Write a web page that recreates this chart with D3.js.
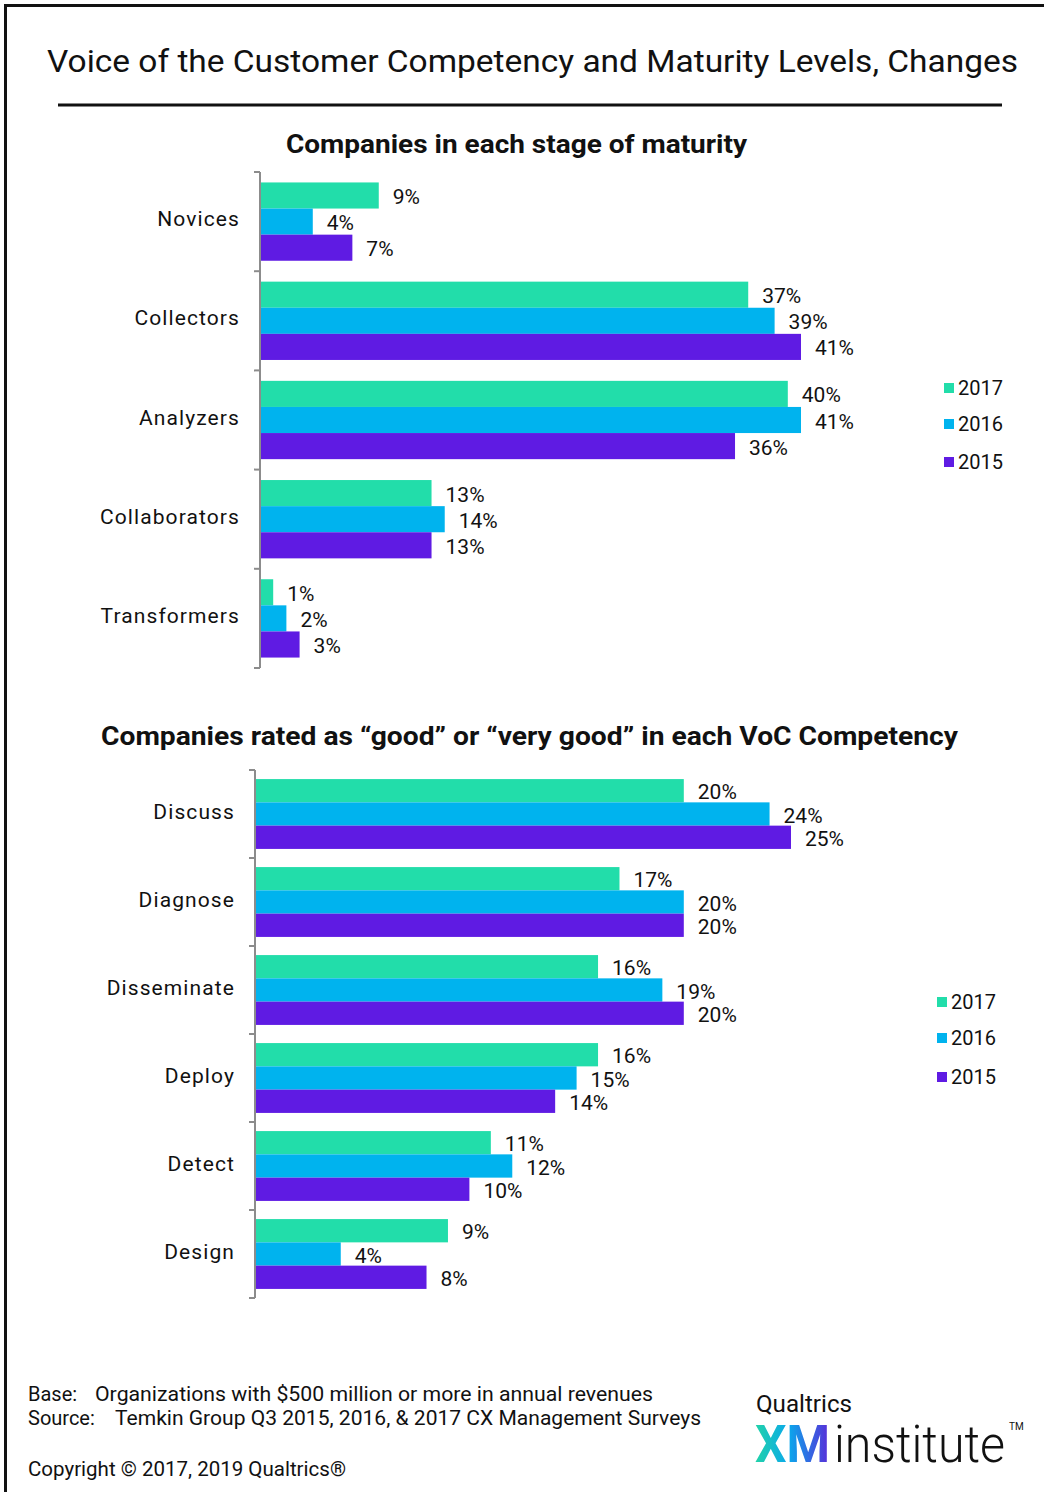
<!DOCTYPE html>
<html>
<head>
<meta charset="utf-8">
<script src="https://cdn.jsdelivr.net/npm/d3@7"></script>
<style>
  html, body { margin: 0; padding: 0; background: #fff; }
  svg { display: block; }
  text { font-family: Roboto, "Liberation Sans", sans-serif; fill: #111; }
</style>
</head>
<body>
<script>
// ---- data ----
const years = ["2017", "2016", "2015"];
const yearColors = ["#22DDAA", "#00B3EE", "#5F1BE3"];

const maturityStages = ["Novices", "Collectors", "Analyzers", "Collaborators", "Transformers"];
const maturity2017 = [9, 37, 40, 13, 1];
const maturity2016 = [4, 39, 41, 14, 2];
const maturity2015 = [7, 41, 36, 13, 3];

const competencies = ["Discuss", "Diagnose", "Disseminate", "Deploy", "Detect", "Design"];
const competency2017 = [20, 17, 16, 16, 11, 9];
const competency2016 = [24, 20, 19, 15, 12, 4];
const competency2015 = [25, 20, 20, 14, 10, 8];

const W = 1044, H = 1492;
const svg = d3.select("body").append("svg").attr("width", W).attr("height", H);

// gradient for the logo lettering
const defs = svg.append("defs");
const grad = defs.append("linearGradient").attr("id", "xmGrad")
  .attr("x1", "0%").attr("x2", "100%").attr("y1", "0%").attr("y2", "0%");
grad.append("stop").attr("offset", "0%").attr("stop-color", "#22D3A8");
grad.append("stop").attr("offset", "45%").attr("stop-color", "#0AA8EC");
grad.append("stop").attr("offset", "100%").attr("stop-color", "#5A2BD8");

// frame (left and top edges)
svg.append("path").attr("d", `M5.5,${H} V5.5 H${W}`)
  .attr("fill", "none").attr("stroke", "#111").attr("stroke-width", 3);

// title and rule
svg.append("text").attr("x", 47).attr("y", 72)
  .attr("font-size", 32).attr("textLength", 971).attr("lengthAdjust", "spacingAndGlyphs")
  .text("Voice of the Customer Competency and Maturity Levels, Changes");
svg.append("line").attr("x1", 58).attr("x2", 1002).attr("y1", 105).attr("y2", 105)
  .attr("stroke", "#111").attr("stroke-width", 3);

function groupedBars(cfg) {
  const g = svg.append("g");
  const y = d3.scaleBand().domain(cfg.categories).range([cfg.top, cfg.bottom]).padding(0);
  const yIn = d3.scaleBand().domain(years).range([0, y.bandwidth()])
    .paddingInner(0).paddingOuter(cfg.outerPad);
  const x = d3.scaleLinear().domain([0, cfg.maxVal]).range([cfg.axisX, cfg.axisX + cfg.maxPx]);

  // subtitle
  g.append("text").attr("x", cfg.subX).attr("y", cfg.subY)
    .attr("font-size", 26).attr("font-weight", 700)
    .attr("textLength", cfg.subLen).attr("lengthAdjust", "spacingAndGlyphs")
    .text(cfg.subtitle);

  const rows = cfg.categories.map((c, i) => ({
    cat: c,
    vals: years.map((yr, j) => ({ year: yr, color: yearColors[j], v: cfg.series[j][i] }))
  }));

  const row = g.selectAll("g.row").data(rows).join("g")
    .attr("class", "row")
    .attr("transform", d => `translate(0,${y(d.cat)})`);

  row.selectAll("rect").data(d => d.vals).join("rect")
    .attr("x", cfg.axisX)
    .attr("y", d => yIn(d.year))
    .attr("width", d => x(d.v) - cfg.axisX)
    .attr("height", yIn.bandwidth())
    .attr("fill", d => d.color);

  row.selectAll("text.val").data(d => d.vals).join("text")
    .attr("class", "val")
    .attr("x", d => x(d.v) + 14)
    .attr("y", d => yIn(d.year) + yIn.bandwidth() / 2 + 1)
    .attr("dy", "0.36em")
    .attr("font-size", 21)
    .text(d => d.v + "%");

  row.append("text")
    .attr("x", cfg.axisX - 20)
    .attr("y", y.bandwidth() / 2 - 3)
    .attr("dy", "0.36em")
    .attr("text-anchor", "end")
    .attr("font-size", 21)
    .attr("letter-spacing", 1.1)
    .text(d => d.cat);

  // category axis with ticks at band boundaries
  const bounds = cfg.categories.map(c => y(c)).concat([cfg.bottom]);
  g.append("line").attr("x1", cfg.axisX).attr("x2", cfg.axisX)
    .attr("y1", cfg.top).attr("y2", cfg.bottom)
    .attr("stroke", "#8c8c8c").attr("stroke-width", 2);
  g.selectAll("line.tick").data(bounds).join("line")
    .attr("class", "tick")
    .attr("x1", cfg.axisX - 6).attr("x2", cfg.axisX)
    .attr("y1", d => d).attr("y2", d => d)
    .attr("stroke", "#8c8c8c").attr("stroke-width", 2);

  // legend
  const lg = g.selectAll("g.leg").data(years).join("g")
    .attr("class", "leg")
    .attr("transform", (d, i) => `translate(${cfg.legX},${cfg.legY + cfg.legStep[i]})`);
  lg.append("rect").attr("x", 0).attr("y", -5).attr("width", 10).attr("height", 10)
    .attr("fill", (d, i) => yearColors[i]);
  lg.append("text").attr("x", 14).attr("y", 0).attr("dy", "0.36em")
    .attr("font-size", 20).text(d => d);
}

groupedBars({
  categories: maturityStages,
  series: [maturity2017, maturity2016, maturity2015],
  top: 172, bottom: 668, outerPad: 0.4,
  axisX: 260, maxVal: 41, maxPx: 541,
  subtitle: "Companies in each stage of maturity", subX: 286, subY: 153, subLen: 461,
  legX: 944, legY: 388, legStep: [0, 36, 74]
});

groupedBars({
  categories: competencies,
  series: [competency2017, competency2016, competency2015],
  top: 770, bottom: 1298, outerPad: 0.39,
  axisX: 255, maxVal: 25, maxPx: 536,
  subtitle: "Companies rated as \u201Cgood\u201D or \u201Cvery good\u201D in each VoC Competency",
  subX: 101, subY: 745, subLen: 857,
  legX: 937, legY: 1002, legStep: [0, 36, 75]
});

// footnotes
const foot = svg.append("g").attr("font-size", 20);
foot.append("text").attr("x", 28).attr("y", 1401).attr("font-size", 20).text("Base:");
foot.append("text").attr("x", 95).attr("y", 1401).attr("font-size", 20)
  .attr("textLength", 558).attr("lengthAdjust", "spacingAndGlyphs")
  .text("Organizations with $500 million or more in annual revenues");
foot.append("text").attr("x", 28).attr("y", 1425).attr("font-size", 20).text("Source:");
foot.append("text").attr("x", 115).attr("y", 1425).attr("font-size", 20)
  .attr("textLength", 586).attr("lengthAdjust", "spacingAndGlyphs")
  .text("Temkin Group Q3 2015, 2016, & 2017 CX Management Surveys");
foot.append("text").attr("x", 28).attr("y", 1476).attr("font-size", 20)
  .attr("textLength", 318).attr("lengthAdjust", "spacingAndGlyphs")
  .text("Copyright \u00A9 2017, 2019 Qualtrics\u00AE");

// logo
const logo = svg.append("g");
logo.append("text").attr("x", 756).attr("y", 1412).attr("font-size", 23)
  .attr("textLength", 96).attr("lengthAdjust", "spacingAndGlyphs").text("Qualtrics");
logo.append("text").attr("x", 755).attr("y", 1462).attr("font-size", 52).attr("font-weight", 700)
  .attr("textLength", 75).attr("lengthAdjust", "spacingAndGlyphs")
  .style("fill", "url(#xmGrad)").text("XM");
logo.append("text").attr("x", 834).attr("y", 1462).attr("font-size", 52).attr("font-weight", 300)
  .attr("textLength", 171).attr("lengthAdjust", "spacingAndGlyphs").text("institute");
logo.append("text").attr("x", 1009).attr("y", 1430).attr("font-size", 10).text("TM");
</script>
</body>
</html>
